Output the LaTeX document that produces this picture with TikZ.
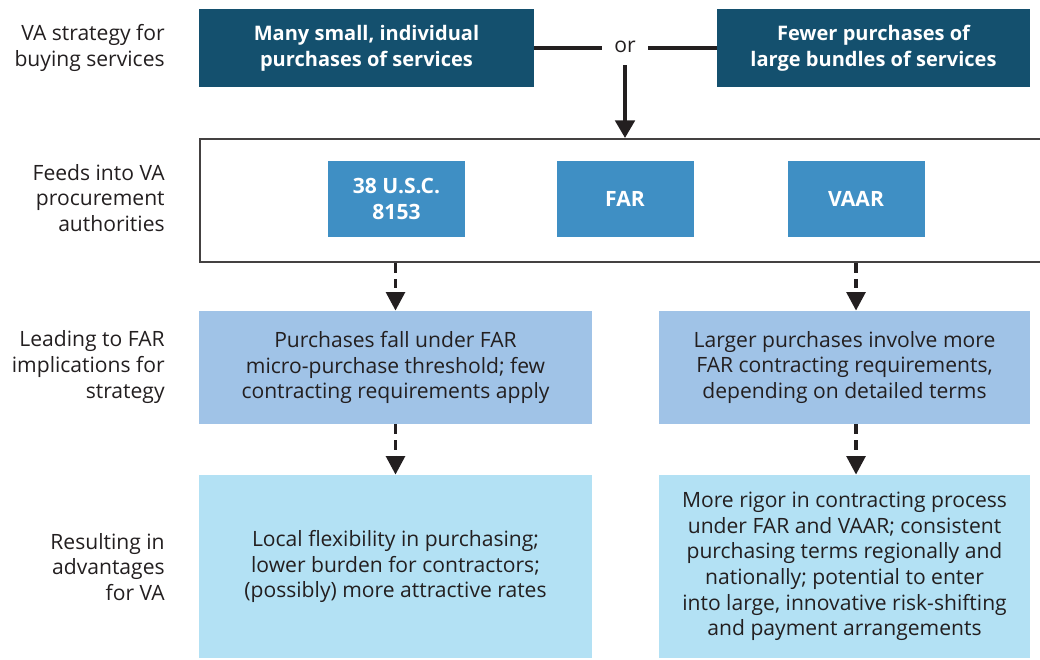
\documentclass[tikz,border=0pt]{standalone}
\usepackage{fontspec}
\setmainfont{Open Sans}
\usetikzlibrary{arrows.meta, positioning}
\definecolor{vadark}{HTML}{14506E}
\definecolor{vamid}{HTML}{3F8FC4}
\definecolor{valight}{HTML}{A0C3E7}
\definecolor{vapale}{HTML}{B3E1F4}
\definecolor{vatext}{HTML}{231F20}
\tikzset{
    rowlabel/.style={anchor=east, align=right, text=vatext, font=\fontsize{12}{14.6}\selectfont, inner sep=0pt},
    strategy/.style={fill=vadark, text=white, align=center, font=\fontsize{11.4}{14.7}\selectfont\bfseries, inner sep=0pt},
    authority/.style={fill=vamid, text=white, align=center, font=\fontsize{12}{14.6}\selectfont\bfseries, inner sep=0pt,
        minimum width=137*0.02cm, minimum height=76*0.02cm},
    implication/.style={fill=valight, text=vatext, align=center, font=\fontsize{12}{14.6}\selectfont, inner sep=0pt,
        minimum height=113*0.02cm},
    advantage/.style={fill=vapale, text=vatext, align=center, font=\fontsize{12}{14.6}\selectfont, inner sep=0pt,
        minimum height=183*0.02cm},
    solidarrow/.style={draw=vatext, line width=2.2pt, -{Triangle[length=10pt, width=11pt]}},
    dasharrow/.style={draw=vatext, line width=2.2pt, dash pattern=on 5.5pt off 3.5pt, -{Triangle[length=10.5pt, width=10.5pt]}},
    joinline/.style={draw=vatext, line width=2.2pt}
}
\begin{document}
\begin{tikzpicture}[x=0.02cm, y=-0.02cm]
    \useasboundingbox (0,0) rectangle (1040,659);
    % row labels
    \node[rowlabel] (lab1) at (165,48) {VA strategy for\\buying services};
    \node[rowlabel] (lab2) at (165,198) {Feeds into VA\\procurement\\authorities};
    \node[rowlabel] (lab3) at (165,367) {Leading to FAR\\implications for\\strategy};
    \node[rowlabel] (lab4) at (165,567) {Resulting in\\advantages\\for VA};
    % strategies
    \node[strategy, minimum width=335*0.02cm, minimum height=78*0.02cm] (small) at (366.5,48)
        {Many small, individual\\purchases of services};
    \node[strategy, minimum width=313*0.02cm, minimum height=78*0.02cm] (bundle) at (873.5,48)
        {Fewer purchases of\\large bundles of services};
    \node[text=vatext, font=\fontsize{12}{14.6}\selectfont, inner sep=0pt, minimum width=46*0.02cm] (or) at (625,47) {or};
    \draw[joinline] (small.east) -- (or.west |- small.east);
    \draw[joinline] (or.east |- bundle.west) -- (bundle.west);
    % authorities
    \begin{scope}
    \clip (0,0) rectangle (1040,659);
    \node[draw=vatext!85, line width=1.1pt, inner sep=0pt, anchor=north west,
        minimum width=880*0.02cm, minimum height=123*0.02cm] (frame) at (199,138) {};
    \end{scope}
    \draw[solidarrow, shorten <=7pt] (or.south) -- (or.south |- frame.north);
    \node[authority] (usc) at (396.5,199) {38 U.S.C.\\8153};
    \node[authority] (far) at (625,199) {FAR};
    \node[authority] (vaar) at (856,199) {VAAR};
    % implications
    \node[implication, minimum width=393*0.02cm] (few) at (395.5,367.5)
        {Purchases fall under FAR\\micro-purchase threshold; few\\contracting requirements apply};
    \node[implication, minimum width=371*0.02cm] (more) at (844.5,367.5)
        {Larger purchases involve more\\FAR contracting requirements,\\depending on detailed terms};
    \draw[dasharrow] (few.north |- frame.south) -- (few.north);
    \draw[dasharrow] (vaar |- frame.south) -- (vaar |- more.north);
    % advantages
    \node[advantage, minimum width=393*0.02cm] (local) at (395.5,566.5)
        {Local flexibility in purchasing;\\lower burden for contractors;\\(possibly) more attractive rates};
    \node[advantage, minimum width=371*0.02cm] (rigor) at (844.5,566.5)
        {More rigor in contracting process\\under FAR and VAAR; consistent\\purchasing terms regionally and\\nationally; potential to enter\\into large, innovative risk-shifting\\and payment arrangements};
    \draw[dasharrow] (few) -- (local);
    \draw[dasharrow] (vaar |- more.south) -- (vaar |- rigor.north);
\end{tikzpicture}
\end{document}
